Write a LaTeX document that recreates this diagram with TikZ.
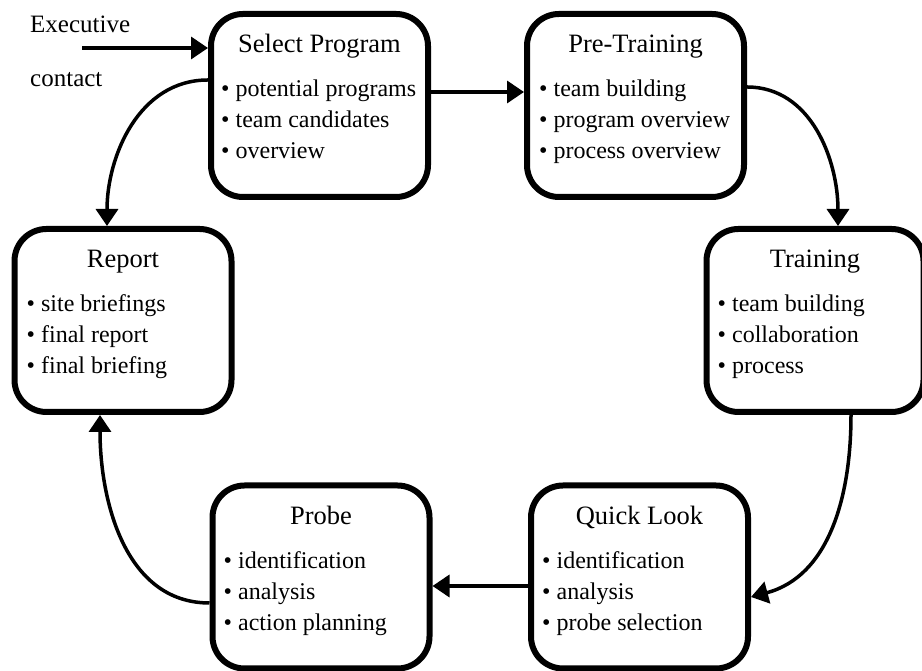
\documentclass[tikz,border=0pt]{standalone}
\usepackage{fontspec}
\setmainfont{Liberation Serif}
\usetikzlibrary{arrows.meta, positioning}

\begin{document}
\begin{tikzpicture}[x=1pt, y=1pt,
		stagebox/.style={draw, line width=6pt, rounded corners=32pt, minimum width=217pt, minimum height=183pt},
		stagetitle/.style={anchor=base, inner sep=0pt, font=\fontsize{26.5}{30}\selectfont},
		stageitem/.style={anchor=base west, inner sep=0pt, font=\fontsize{24}{30}\selectfont},
		flow/.style={line width=3.5pt, -{Triangle[length=17pt, width=22pt]}}]
		\useasboundingbox (0,0) rectangle (922,671);
		% the six stages
		\node[stagebox] (sel) at (319.5,565.5) {};
		\node[stagetitle] (sel-title) at ([yshift=-42pt]sel.north) {Select Program};
		\foreach \txt [count=\i] in {potential programs, team candidates, overview}
			\node[stageitem] (sel-\i) at ([xshift=13pt, yshift={-(55+31*\i)}]sel.north west) {\textbullet\ \txt};
		\node[stagebox] (pre) at (635.5,565.5) {};
		\node[stagetitle] (pre-title) at ([yshift=-42pt]pre.north) {Pre-Training};
		\foreach \txt [count=\i] in {team building, program overview, process overview}
			\node[stageitem] (pre-\i) at ([xshift=15pt, yshift={-(55+31*\i)}]pre.north west) {\textbullet\ \txt};
		\node[stagebox] (train) at (815,350.5) {};
		\node[stagetitle] (train-title) at ([yshift=-42pt]train.north) {Training};
		\foreach \txt [count=\i] in {team building, collaboration, process}
			\node[stageitem] (train-\i) at ([xshift=14pt, yshift={-(55+31*\i)}]train.north west) {\textbullet\ \txt};
		\node[stagebox] (quick) at (639.5,94) {};
		\node[stagetitle] (quick-title) at ([yshift=-42pt]quick.north) {Quick Look};
		\foreach \txt [count=\i] in {identification, analysis, probe selection}
			\node[stageitem] (quick-\i) at ([xshift=14pt, yshift={-(55+31*\i)}]quick.north west) {\textbullet\ \txt};
		\node[stagebox] (probe) at (321,94) {};
		\node[stagetitle] (probe-title) at ([yshift=-42pt]probe.north) {Probe};
		\foreach \txt [count=\i] in {identification, analysis, action planning}
			\node[stageitem] (probe-\i) at ([xshift=14pt, yshift={-(55+31*\i)}]probe.north west) {\textbullet\ \txt};
		\node[stagebox] (report) at (123,350.5) {};
		\node[stagetitle] (report-title) at ([yshift=-42pt]report.north) {Report};
		\foreach \txt [count=\i] in {site briefings, final report, final briefing}
			\node[stageitem] (report-\i) at ([xshift=15pt, yshift={-(55+31*\i)}]report.north west) {\textbullet\ \txt};
		% entry
		\node[anchor=base west, inner sep=0pt, font=\fontsize{25}{30}\selectfont] (exec-1) at (30,638) {Executive};
		\node[anchor=base west, inner sep=0pt, font=\fontsize{25}{30}\selectfont] (exec-2) at (30,584) {contact};
		\coordinate (execin) at (82,623);
		\draw[flow] (execin) -- (execin -| sel.west);
		% cycle
		\draw[flow] ([yshift=13.5pt]sel.east) -- ([yshift=13.5pt]pre.west);
		\draw[flow] ([yshift=18.5pt]pre.east) to[out=0, in=90] ([xshift=23pt]train.north);
		\draw[flow] ([xshift=36pt]train.south) to[out=-90, in=15] ([yshift=-20pt]quick.east);
		\draw[flow] ([yshift=-9pt]quick.west) -- ([yshift=-9pt]probe.east);
		\draw[flow] ([yshift=-26pt]probe.west) to[out=180, in=-90] ([xshift=-23pt]report.south);
		\draw[flow] ([yshift=25.5pt]sel.west) to[out=180, in=90] ([xshift=-16pt]report.north);
	\end{tikzpicture}
\end{document}
